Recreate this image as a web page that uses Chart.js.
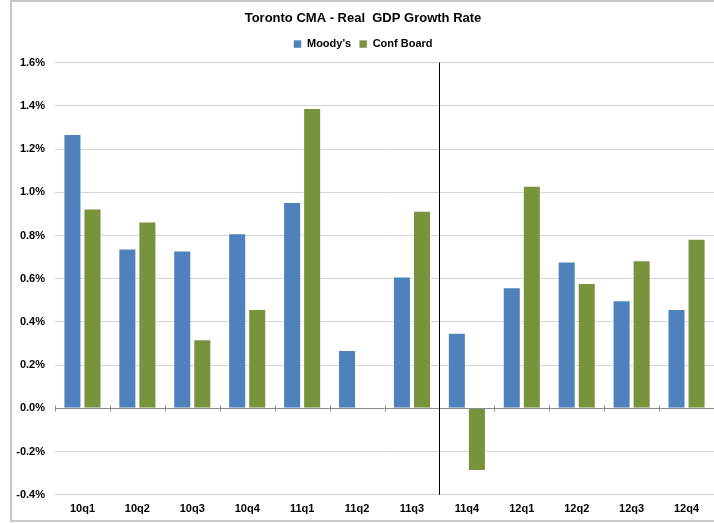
<!DOCTYPE html>
<html>
<head>
<meta charset="utf-8">
<script src="https://cdn.jsdelivr.net/npm/chart.js@4.4.0/dist/chart.umd.min.js"></script>
<style>
  html, body { margin: 0; padding: 0; background: #fff; }
  #wrap { width: 714px; height: 523px; position: relative; }
</style>
</head>
<body>
<div id="wrap"><canvas id="gdpChart"></canvas></div>
<script>
// Quarters shown on the x axis
const quarters = ['10q1', '10q2', '10q3', '10q4', '11q1', '11q2', '11q3', '11q4', '12q1', '12q2', '12q3', '12q4'];

// Real GDP growth rate, percent
const moodys = [1.27, 0.74, 0.73, 0.81, 0.955, 0.27, 0.61, 0.35, 0.56, 0.68, 0.50, 0.46];
const confBoard = [0.925, 0.865, 0.32, 0.46, 1.39, 0, 0.915, -0.29, 1.03, 0.58, 0.685, 0.785];

// Y axis range and step
const yMin = -0.4;
const yMax = 1.6;
const yStep = 0.2;

// Divider drawn before this quarter
const dividerBefore = '11q4';

const fontFamily = "'Liberation Sans', Arial, sans-serif";

// Extra room under the legend
const legendGap = {
    id: 'legendGap',
    beforeInit(chart) {
        const legend = chart.legend;
        if (!legend) return;
        const fit = legend.fit;
        legend.fit = function () {
            fit.call(this);
            this.height += 3;
        };
    }
};

// Outer frame, zero axis with category ticks, and the vertical divider
const extras = {
    id: 'extras',
    beforeDatasetsDraw(chart) {
        const { ctx, chartArea, scales } = chart;
        const x = scales.x, y = scales.y;
        const y0 = Math.round(y.getPixelForValue(0)) + 0.5;
        ctx.save();
        ctx.strokeStyle = '#8c8c8c';
        ctx.lineWidth = 1;
        ctx.beginPath();
        ctx.moveTo(chartArea.left, y0);
        ctx.lineTo(chartArea.right, y0);
        const step = x.width / quarters.length;
        for (let i = 0; i <= quarters.length; i++) {
            const px = Math.round(chartArea.left + i * step) + 0.5;
            ctx.moveTo(px, y0 - 3);
            ctx.lineTo(px, y0 + 3);
        }
        ctx.stroke();
        ctx.restore();
    },
    afterDraw(chart) {
        const { ctx, chartArea, scales } = chart;
        const x = scales.x;
        const idx = quarters.indexOf(dividerBefore);
        const step = x.width / quarters.length;
        const px = Math.round(chartArea.left + idx * step) + 0.5;
        ctx.save();
        ctx.strokeStyle = '#000';
        ctx.lineWidth = 1;
        ctx.beginPath();
        ctx.moveTo(px, chartArea.top);
        ctx.lineTo(px, chartArea.bottom);
        ctx.stroke();
        // frame around the whole chart
        ctx.strokeStyle = '#c8c8c8';
        ctx.lineWidth = 2;
        ctx.strokeRect(11, 1, chart.width + 10, chart.height - 3);
        ctx.restore();
    }
};

const ctx = document.getElementById('gdpChart');
new Chart(ctx, {
    type: 'bar',
    data: {
        labels: quarters,
        datasets: [{
            label: "Moody's",
            data: moodys,
            backgroundColor: '#4f81bd',
            borderColor: 'rgba(255,255,255,0.6)',
            borderWidth: 1,
            barPercentage: 0.9,
            categoryPercentage: 0.73
        }, {
            label: 'Conf Board',
            data: confBoard,
            backgroundColor: '#77933c',
            borderColor: 'rgba(255,255,255,0.6)',
            borderWidth: 1,
            barPercentage: 0.9,
            categoryPercentage: 0.73
        }]
    },
    options: {
        responsive: true,
        maintainAspectRatio: false,
        animation: false,
        layout: { padding: { left: 12, right: 0, top: 6, bottom: 7 } },
        plugins: {
            title: {
                display: true,
                text: 'Toronto CMA - Real  GDP Growth Rate',
                color: '#000',
                font: { family: fontFamily, size: 13, weight: 'bold' },
                padding: { top: 5, bottom: 4 }
            },
            legend: {
                position: 'top',
                labels: {
                    color: '#000',
                    boxWidth: 8,
                    boxHeight: 8,
                    padding: 8,
                    font: { family: fontFamily, size: 11, weight: 'bold' }
                }
            },
            tooltip: { enabled: false }
        },
        scales: {
            x: {
                grid: { display: false },
                border: { display: false },
                ticks: {
                    color: '#000',
                    padding: 0,
                    font: { family: fontFamily, size: 11, weight: 'bold' }
                }
            },
            y: {
                min: yMin,
                max: yMax,
                border: { display: false },
                afterFit(scale) { scale.width = 43; },
                grid: {
                    color: '#d4d4d4',
                    drawTicks: false
                },
                ticks: {
                    stepSize: yStep,
                    color: '#000',
                    padding: 10,
                    font: { family: fontFamily, size: 11, weight: 'bold' },
                    callback: v => v.toFixed(1) + '%'
                }
            }
        }
    },
    plugins: [legendGap, extras]
});
</script>
</body>
</html>
